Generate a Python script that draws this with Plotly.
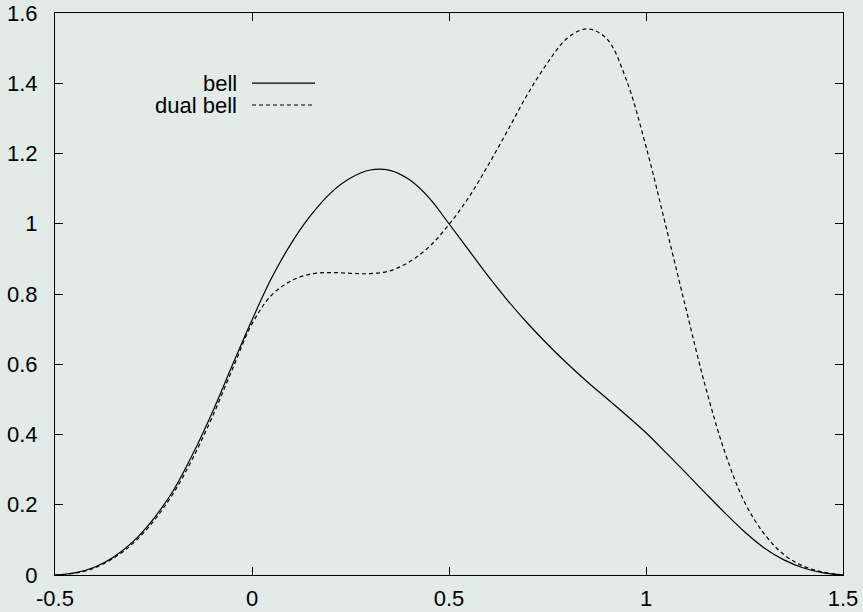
import plotly.graph_objects as go

# Sample positions along the x axis
x_vals = [-0.5, -0.45, -0.4, -0.35, -0.3, -0.25, -0.2, -0.15, -0.1, -0.05,
          0.0, 0.05, 0.1, 0.15, 0.2, 0.25, 0.3, 0.35, 0.4, 0.45,
          0.5, 0.55, 0.6, 0.65, 0.7, 0.75, 0.8, 0.85, 0.9, 0.95,
          1.0, 1.05, 1.1, 1.15, 1.2, 1.25, 1.3, 1.35, 1.4, 1.45, 1.5]

bell = [0.0, 0.006, 0.022, 0.052, 0.097, 0.16, 0.24, 0.345, 0.465, 0.597,
        0.726, 0.846, 0.945, 1.025, 1.088, 1.13, 1.153, 1.152, 1.125, 1.073,
        1.0, 0.925, 0.85, 0.78, 0.716, 0.657, 0.602, 0.551, 0.503, 0.455,
        0.405, 0.349, 0.292, 0.234, 0.177, 0.123, 0.077, 0.043, 0.02, 0.006, 0.0]

dual_bell = [0.0, 0.005, 0.02, 0.049, 0.092, 0.153, 0.232, 0.333, 0.452, 0.585,
             0.715, 0.797, 0.838, 0.857, 0.861, 0.859, 0.858, 0.866, 0.892, 0.935,
             0.998, 1.075, 1.168, 1.268, 1.37, 1.458, 1.528, 1.555, 1.527, 1.41,
             1.22, 0.995, 0.765, 0.54, 0.35, 0.208, 0.117, 0.058, 0.025, 0.008, 0.0]

x_ticks = [-0.5, 0, 0.5, 1, 1.5]
x_tick_text = ["-0.5", "0", "0.5", "1", "1.5"]
y_ticks = [0, 0.2, 0.4, 0.6, 0.8, 1.0, 1.2, 1.4, 1.6]
y_tick_text = ["0", "0.2", "0.4", "0.6", "0.8", "1", "1.2", "1.4", "1.6"]

series_names = ["bell", "dual bell"]

BG = "#e3ebe8"
FONT = dict(family="Liberation Sans, Arial, sans-serif", size=22, color="black")
DASH = "4px,3px"

fig = go.Figure()
fig.add_trace(go.Scatter(x=x_vals, y=bell, mode="lines", name=series_names[0],
                         line=dict(color="black", width=1.2, shape="spline", smoothing=1.0)))
fig.add_trace(go.Scatter(x=x_vals, y=dual_bell, mode="lines", name=series_names[1],
                         line=dict(color="black", width=1.2, dash=DASH, shape="spline", smoothing=1.0)))

axis_common = dict(showgrid=False, zeroline=False, showline=True, linecolor="black",
                   linewidth=1, mirror="ticks", ticks="inside", ticklen=8,
                   tickcolor="black", tickwidth=1, tickfont=FONT)

fig.update_xaxes(range=[-0.5, 1.5], tickvals=x_ticks, ticktext=x_tick_text,
                 ticklabelstandoff=4, **axis_common)
fig.update_yaxes(range=[0, 1.6], tickvals=y_ticks, ticktext=y_tick_text,
                 ticklabelstandoff=12, **axis_common)

# Key in the upper-left: right-aligned labels followed by line samples
key_rows = [0.8754, 0.8363]
key_styles = ["solid", DASH]
for name, yy, dash in zip(series_names, key_rows, key_styles):
    fig.add_annotation(x=0.2322, y=yy, xref="paper", yref="paper", text=name,
                       showarrow=False, xanchor="right", yanchor="middle",
                       height=20, borderpad=0, valign="middle", font=FONT)
    fig.add_shape(type="line", xref="paper", yref="paper", x0=0.25, x1=0.33,
                  y0=yy, y1=yy, line=dict(color="black", width=1.2, dash=dash))

fig.update_layout(width=863, height=612, showlegend=False,
                  paper_bgcolor=BG, plot_bgcolor=BG,
                  margin=dict(l=55, r=20, t=13, b=37, autoexpand=False),
                  font=FONT)

fig.write_html("out.html")
